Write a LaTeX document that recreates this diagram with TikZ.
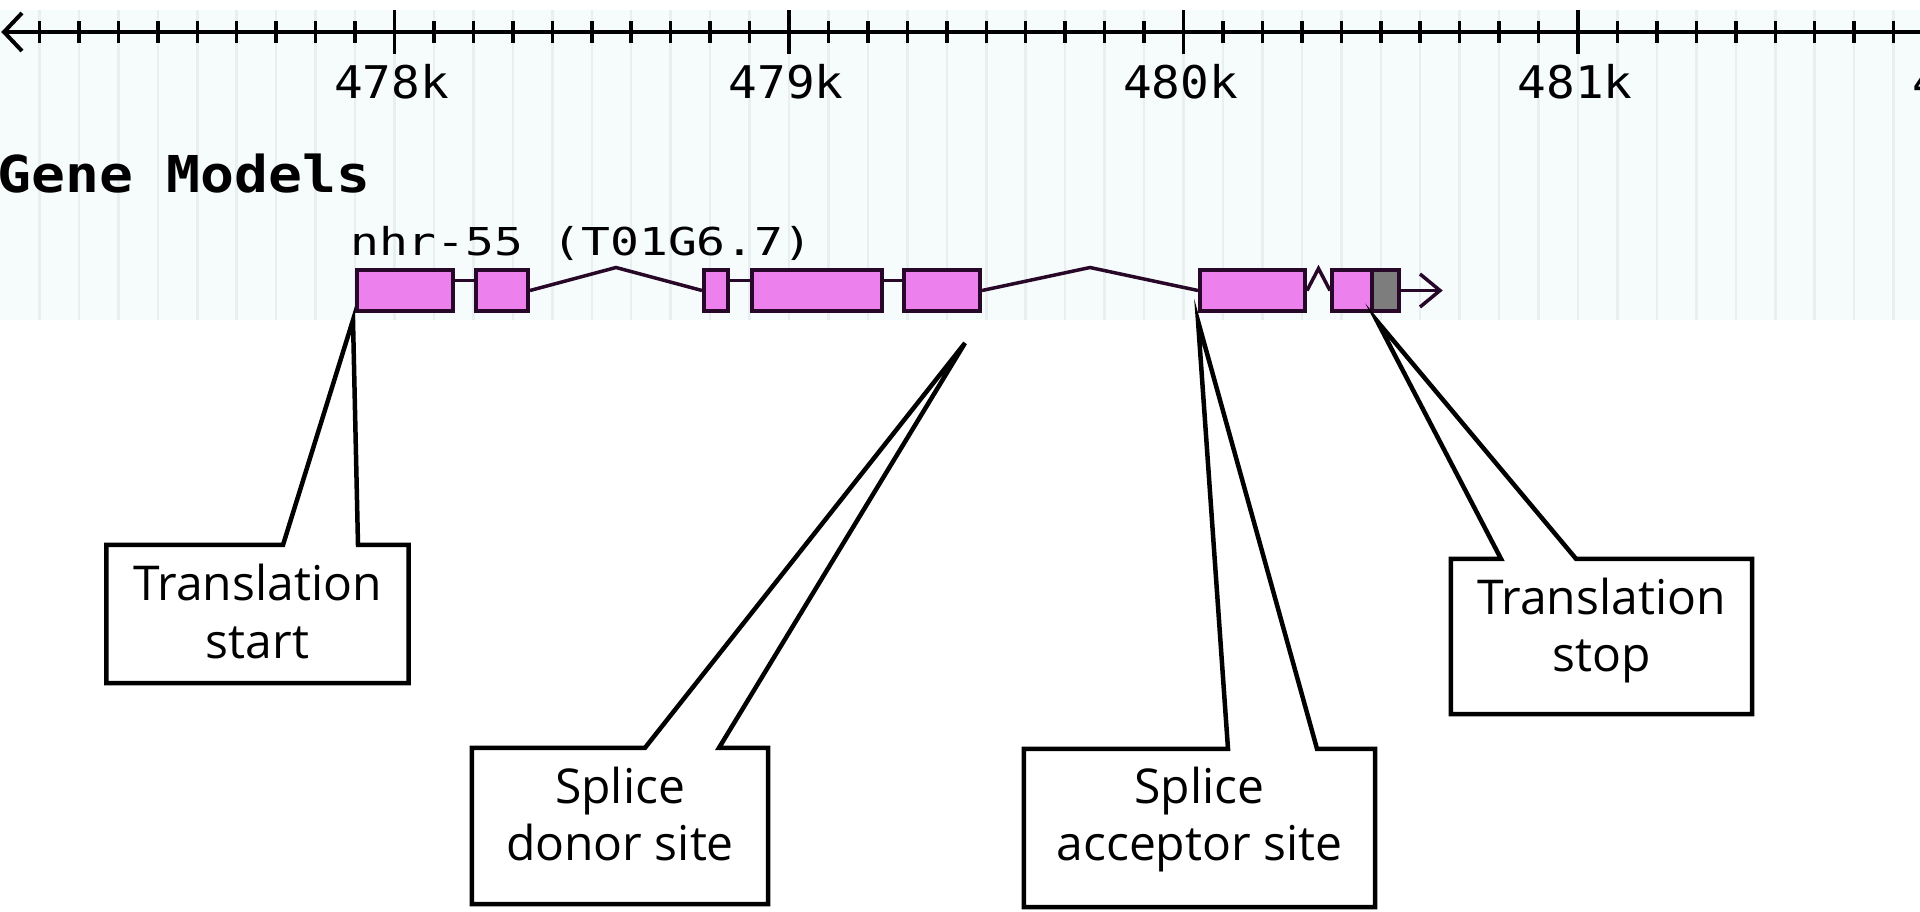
\documentclass[tikz,border=0pt]{standalone}
\usepackage{fontspec}
\usepackage{graphicx}
\setmainfont{Open Sans}
\newfontfamily\gbmono{DejaVu Sans Mono}
\usetikzlibrary{calc}
\definecolor{bgtint}{RGB}{246,252,252}
\definecolor{gridgray}{RGB}{233,239,241}
\definecolor{exonfill}{RGB}{236,128,236}
\definecolor{exonedge}{RGB}{40,8,40}
\definecolor{utrgray}{RGB}{125,125,125}
\newcommand{\calfont}{\fontsize{48}{57.5}\selectfont}
\begin{document}
\begin{tikzpicture}[x=1pt,y=-1pt,
  gridline/.style={draw=gridgray, line width=2.5pt},
  axisline/.style={draw=black, line width=4pt},
  tickline/.style={draw=black, line width=3.5pt},
  axislab/.style={font={\gbmono\fontsize{45}{50}\selectfont}, inner sep=0pt, anchor=base},
  exonbox/.style={draw=exonedge, fill=exonfill, line width=4pt, minimum height=41pt, inner sep=0pt},
  utrbox/.style={exonbox, fill=utrgray},
  intron/.style={draw=exonedge, line width=3.5pt},
  callbox/.style={inner sep=0pt},
  callout/.style={draw=black, fill=white, line width=4.5pt, line join=miter},
  calltext/.style={font=\calfont, align=center, inner sep=0pt, anchor=north}]
\useasboundingbox (0,0) rectangle (1920,911);
\clip (0,0) rectangle (1920,911);
\fill[white] (0,0) rectangle (1920,911);
% track background
\fill[bgtint] (0,10) rectangle (1920,320);
\foreach \i in {1,...,48} \draw[gridline] ({39.45*\i},10) -- ({39.45*\i},320);
% ruler
\draw[axisline] (4,32) -- (1920,32);
\draw[axisline] (22,13) -- (4,32) -- (22,51);
\foreach \i in {1,...,48} \draw[tickline] ({39.45*\i},21) -- ({39.45*\i},43);
\foreach \k/\lab in {1/478k,2/479k,3/480k,4/481k,5/482k}{
  \draw[tickline] ({394.5*\k},10) -- ({394.5*\k},54);
  \node[axislab] (lab\k) at ({394.5*\k-3},98) {\scalebox{1.06}[1]{\lab}};
}
% track title and gene label
\node[inner sep=0pt, anchor=base west, font={\gbmono\bfseries\fontsize{50.8}{55}\selectfont}] (title) at (-3,192) {\scalebox{1.11}[1]{Gene Models}};
\node[inner sep=0pt, anchor=base west, font={\gbmono\fontsize{38.4}{42}\selectfont}] (genelab) at (350,255) {\scalebox{1.25}[1]{nhr-55 (T01G6.7)}};
% exons
\node[exonbox, minimum width=96pt] (e1) at (405,290.5) {};
\node[exonbox, minimum width=52pt] (e2) at (502,290.5) {};
\node[exonbox, minimum width=24pt] (e3) at (716,290.5) {};
\node[exonbox, minimum width=130pt] (e4) at (817,290.5) {};
\node[exonbox, minimum width=76pt] (e5) at (942,290.5) {};
\node[exonbox, minimum width=105pt] (e6) at (1252.5,290.5) {};
\node[exonbox, minimum width=40pt] (e7) at (1352,290.5) {};
\node[utrbox, minimum width=27pt] (e7u) at (1385.5,290.5) {};
% introns
\draw[intron] ($(e1.east)+(0,-10)$) -- ($(e2.west)+(0,-10)$);
\draw[intron] ($(e3.east)+(0,-10)$) -- ($(e4.west)+(0,-10)$);
\draw[intron] ($(e4.east)+(0,-10)$) -- ($(e5.west)+(0,-10)$);
\draw[intron] (e2.east) -- ($(e2.east)!0.5!(e3.west)+(0,-23)$) -- (e3.west);
\draw[intron] (e5.east) -- ($(e5.east)!0.5!(e6.west)+(0,-23)$) -- (e6.west);
\draw[intron] (e6.east) -- ($(e6.east)!0.5!(e7.west)+(0,-22)$) -- (e7.west);
% strand arrow
\coordinate (arrowtip) at (1440,290.5);
\draw[intron] (e7u.east) -- (arrowtip);
\draw[intron] (1420,274) -- (arrowtip) -- (1420,307);
% callout tips
\coordinate (t1) at (353,320);
\coordinate (t2) at (965,343);
\coordinate (t3) at (1198,321);
\coordinate (t4) at (1377,321);
% callout boxes
\node[callbox, minimum width=302pt, minimum height=137.7pt] (b1) at (257.5,614) {};
\node[callbox, minimum width=296pt, minimum height=156pt] (b2) at (620,826) {};
\node[callbox, minimum width=351pt, minimum height=158pt] (b3) at (1199.5,828) {};
\node[callbox, minimum width=301pt, minimum height=155pt] (b4) at (1601.5,636.5) {};
\coordinate (b1l) at ($(b1.north)+(25.5,0)$);
\coordinate (b1r) at ($(b1.north)+(100.5,0)$);
\coordinate (b2l) at ($(b2.north)+(25,0)$);
\coordinate (b2r) at ($(b2.north)+(99,0)$);
\coordinate (b3l) at ($(b3.north)+(28.5,0)$);
\coordinate (b3r) at ($(b3.north)+(117.5,0)$);
\coordinate (b4l) at ($(b4.north)+(-100.5,0)$);
\coordinate (b4r) at ($(b4.north)+(-25.5,0)$);
\foreach \b in {1,2,3,4}{
  \draw[callout] (b\b l) -- (t\b) -- (b\b r) -- (b\b.north east) -- (b\b.south east) -- (b\b.south west) -- (b\b.north west) -- cycle;
}
\node[calltext] (b1t) at ([yshift=-19pt]b1.north) {Translation\\start};
\node[calltext] (b2t) at ([yshift=-19pt]b2.north) {Splice\\donor site};
\node[calltext] (b3t) at ([yshift=-18pt]b3.north) {Splice\\acceptor site};
\node[calltext] (b4t) at ([yshift=-19pt]b4.north) {Translation\\stop};
\end{tikzpicture}
\end{document}
